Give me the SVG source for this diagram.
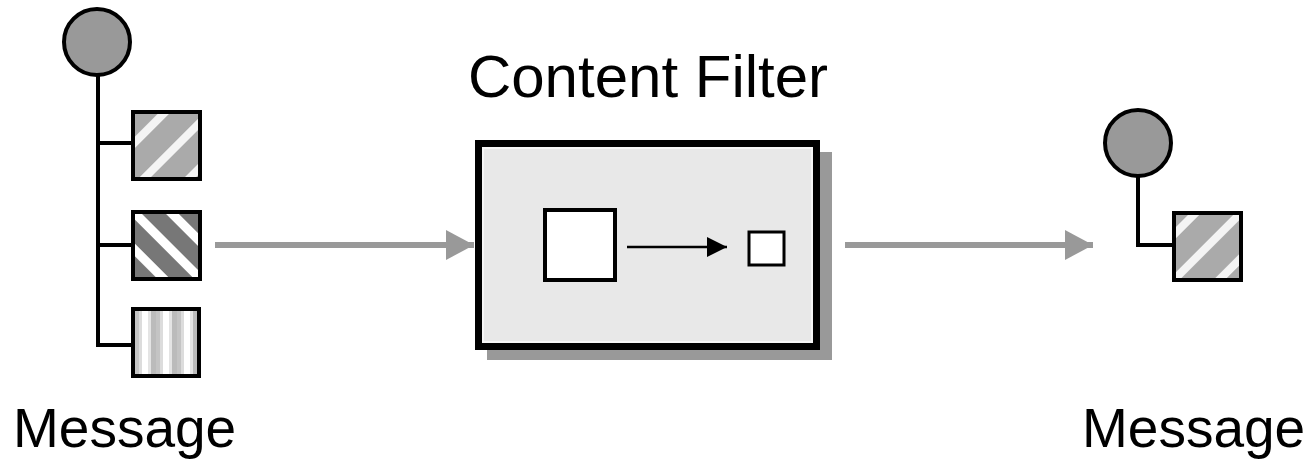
<svg xmlns="http://www.w3.org/2000/svg" width="1308" height="459" viewBox="0 0 1308 459">
<style>
.lbl{font-family:"Liberation Sans",Arial,sans-serif;fill:#000}
.wire{fill:none;stroke:#000;stroke-width:4}
.ball{fill:#999;stroke:#000;stroke-width:4}
.part{stroke:#000;stroke-width:4}
.flow{stroke:#999;stroke-width:6;fill:none}
</style>
<defs>
<pattern id="p1" patternUnits="userSpaceOnUse" width="32" height="32" patternTransform="rotate(45)">
<rect width="32" height="32" fill="#aaa"/>
<rect x="0" y="0" width="8" height="32" fill="#f4f4f4"/>
</pattern>
<pattern id="p2" patternUnits="userSpaceOnUse" width="26" height="26" patternTransform="translate(166 245) rotate(-45)">
<rect width="26" height="26" fill="#777"/>
<rect x="-4" y="0" width="9" height="26" fill="#fff"/>
<rect x="22" y="0" width="9" height="26" fill="#fff"/>
</pattern>
<pattern id="p3" patternUnits="userSpaceOnUse" width="21" height="20" x="135">
<rect width="21" height="20" fill="#fff"/>
<rect x="0" width="4" height="20" fill="#c4c4c4"/>
<rect x="4" width="3" height="20" fill="#dcdcdc"/>
<rect x="13" width="3" height="20" fill="#e4e4e4"/>
<rect x="16" width="5" height="20" fill="#bbb"/>
</pattern>
<marker id="ga" markerUnits="userSpaceOnUse" markerWidth="30" markerHeight="30" refX="28" refY="15" orient="auto">
<path d="M0 0 L28 15 L0 30 Z" fill="#999"/>
</marker>
<marker id="ba" markerUnits="userSpaceOnUse" markerWidth="22" markerHeight="22" refX="20" refY="10" orient="auto">
<path d="M0 0 L20 10 L0 20 Z" fill="#000"/>
</marker>
</defs>

<g id="connectors">
<line class="flow" x1="215" y1="245" x2="474" y2="245" marker-end="url(#ga)"/>
<line class="flow" x1="845" y1="245" x2="1093" y2="245" marker-end="url(#ga)"/>
</g>

<g id="message-in">
<path class="wire" d="M98 75 V345 H133 M98 143 H133 M98 245 H133"/>
<circle class="ball" cx="97" cy="42" r="33"/>
<rect class="part" x="133" y="112" width="67" height="67" fill="url(#p1)"/>
<rect class="part" x="133" y="212" width="67" height="67" fill="url(#p2)"/>
<rect class="part" x="133" y="309" width="66" height="67" fill="url(#p3)"/>
<text class="lbl" x="13" y="447" font-size="55">Message</text>
</g>

<g id="content-filter">
<rect x="487" y="152" width="345" height="208" fill="#999"/>
<rect x="478.5" y="143.5" width="338" height="203" fill="#e8e8e8" stroke="#000" stroke-width="7"/>
<rect x="483" y="148" width="329" height="194" fill="none" stroke="#f6f6f6" stroke-width="2"/>
<rect x="545" y="210" width="70" height="70" fill="#fff" stroke="#000" stroke-width="4"/>
<line x1="627" y1="247" x2="727" y2="247" stroke="#000" stroke-width="2.5" marker-end="url(#ba)"/>
<rect x="749" y="232" width="35" height="33" fill="#fff" stroke="#000" stroke-width="3"/>
<text class="lbl" x="648" y="97" font-size="60" text-anchor="middle">Content Filter</text>
</g>

<g id="message-out">
<path class="wire" d="M1138 176 V245 H1174"/>
<circle class="ball" cx="1138" cy="143" r="33"/>
<rect class="part" x="1174" y="213" width="67" height="67" fill="url(#p1)"/>
<text class="lbl" x="1082" y="447" font-size="55">Message</text>
</g>
</svg>
